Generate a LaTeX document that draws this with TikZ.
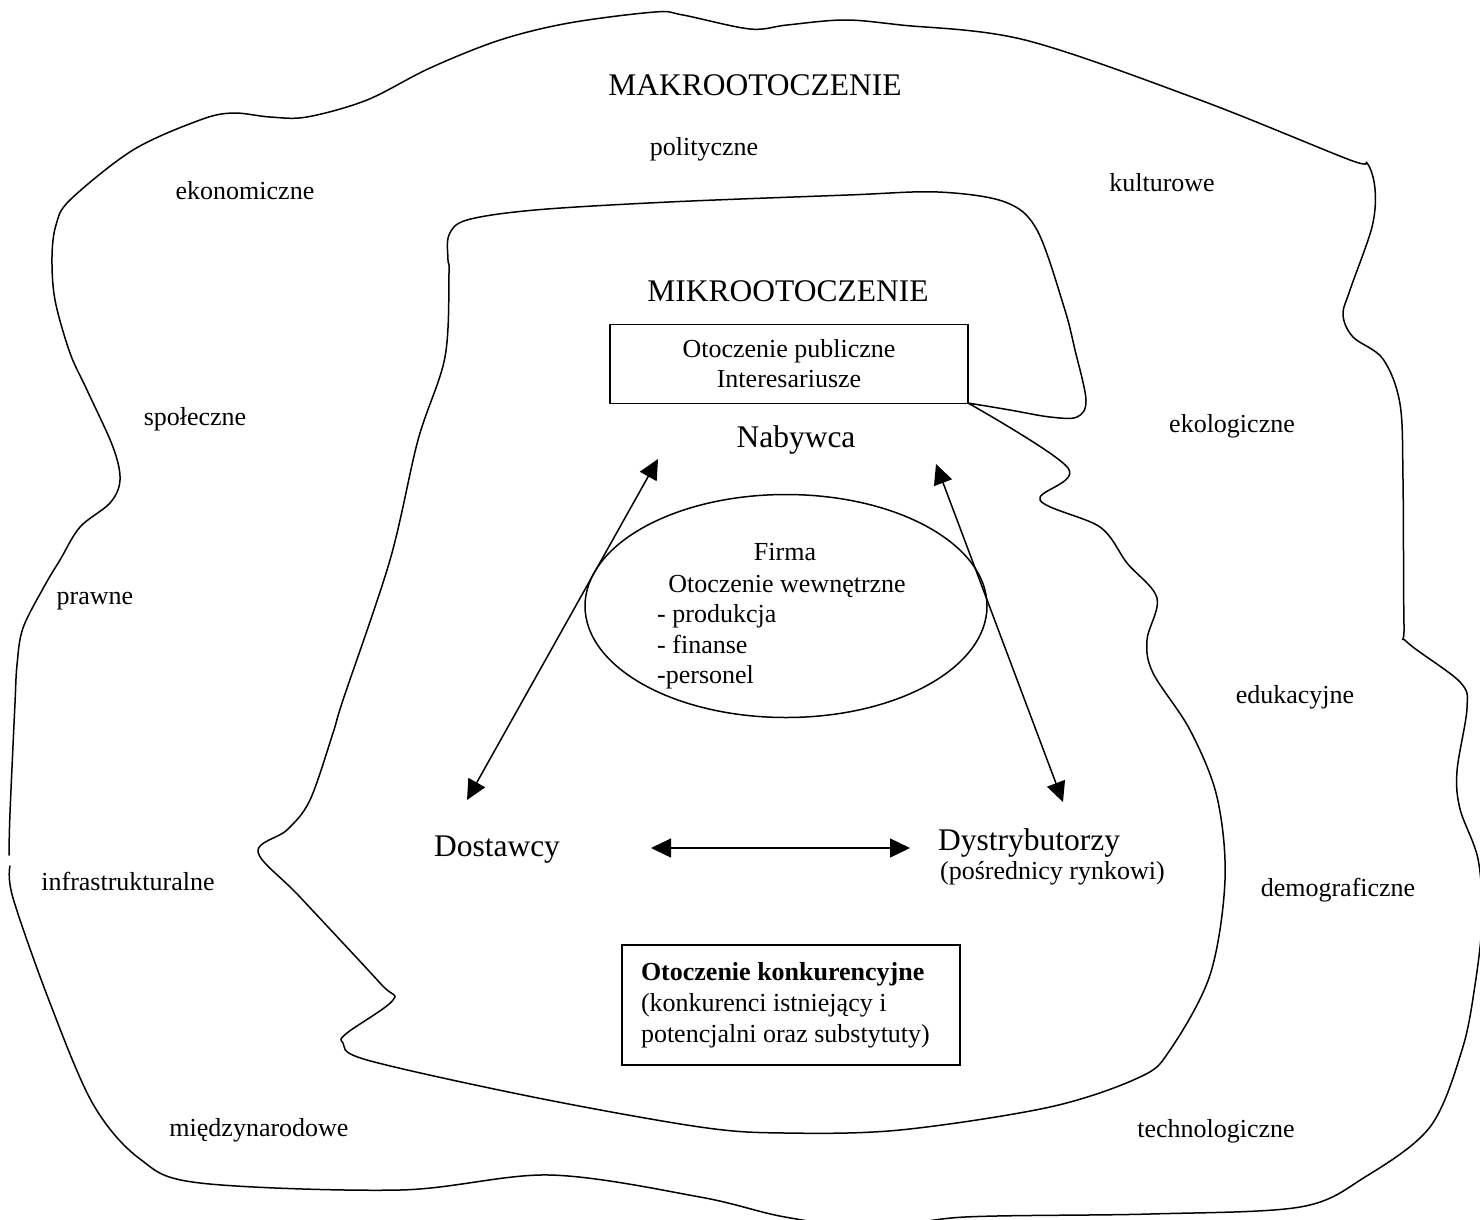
\documentclass[tikz,border=0pt]{standalone}
\usepackage{fontspec}
\setmainfont{Liberation Serif}
\usetikzlibrary{arrows.meta,shapes.geometric}

\begin{document}
\begin{tikzpicture}[x=1pt,y=-1pt,
  factor/.style={font=\fontsize{26}{30}\selectfont, inner sep=0pt},
  sphere/.style={font=\fontsize{31.5}{35}\selectfont, inner sep=0pt},
  blob/.style={line width=1.5pt, line join=round, line cap=round},
  link/.style={line width=1.5pt, <->, >={Triangle[length=20pt,width=19pt]}}]
  \useasboundingbox (0,0) rectangle (1480,1219);
  \clip (0,0) rectangle (1480,1219);

  % makrootoczenie
  \draw[blob] plot[smooth, tension=0.55] coordinates {
    (9,855) (10,813) (15,703) (17,665) (23,628) (45,585) (60,560)
    (80,527) (110,503) (120,480) (113,447) (87,390) (70,353) (55,300)
    (52,257) (56,225) (70,200) (133,150) (200,120) (233,113) (270,117)
    (307,117) (367,100) (430,68) (500,40) (569,23) (655,12) (683,15)
    (750,29) (787,25) (844,20) (901,25) (1025,40) (1200,100) (1350,160)
    (1367,163) (1375,189) (1372,227) (1350,290) (1343,315) (1353,337)
    (1383,359) (1400,404) (1403,480) (1404,625) (1407,642) (1460,682)
    (1467,708) (1457,771) (1460,809) (1478,859) (1482,920) (1475,985)
    (1462,1050) (1430,1127) (1365,1177) (1300,1207) (1150,1214)
    (965,1217) (875,1228) (785,1217) (700,1197) (550,1175) (400,1190)
    (200,1183) (140,1159) (93,1104) (50,1003) (13,898) (10,866)};

  % mikrootoczenie
  \draw[blob] plot[smooth, tension=0.55] coordinates {
    (968,403) (1010,410) (1050,417) (1077,417) (1086,400) (1075,350)
    (1064,307) (1037,230) (1005,202) (938,192) (848,195) (669,202)
    (535,210) (467,220) (449,235) (448,260) (449,273) (445,357)
    (418,440) (390,560) (343,700) (333,733) (310,800) (287,830)
    (258,852) (300,897) (380,983) (393,1000) (347,1033) (343,1043)
    (367,1060) (533,1097) (700,1127) (785,1133) (900,1130) (1050,1107)
    (1140,1077) (1170,1050) (1210,975) (1225,880) (1217,797) (1190,730)
    (1153,673) (1147,640) (1157,598) (1127,563) (1100,527) (1040,500)
    (1068,468) (968,403)};

  \node[sphere, anchor=base] (makro) at (755,95) {MAKROOTOCZENIE};
  \node[factor, anchor=base] (polit) at (704,155) {polityczne};
  \node[factor, anchor=base] (ekon) at (245,199) {ekonomiczne};
  \node[factor, anchor=base] (kult) at (1162,191) {kulturowe};
  \node[factor, anchor=base] (spol) at (195,425) {społeczne};
  \node[factor, anchor=base] (ekol) at (1232,432) {ekologiczne};
  \node[factor, anchor=base] (praw) at (95,604) {prawne};
  \node[factor, anchor=base] (eduk) at (1295,703) {edukacyjne};
  \node[factor, anchor=base] (infra) at (128,890) {infrastrukturalne};
  \node[factor, anchor=base] (demo) at (1338,896) {demograficzne};
  \node[factor, anchor=base] (miedz) at (259,1136) {międzynarodowe};
  \node[factor, anchor=base] (techn) at (1216,1137) {technologiczne};

  \node[sphere, anchor=base] (mikro) at (788,301) {MIKROOTOCZENIE};
  \node[factor, draw, line width=1.3pt, minimum width=358pt,
    minimum height=79pt, align=center] (publ) at (789,364)
    {Otoczenie publiczne\\Interesariusze};
  \node[sphere, anchor=base] (nabyw) at (796,447) {Nabywca};

  \node[draw, ellipse, line width=1.5pt, minimum width=402pt,
    minimum height=223pt] (firma) at (786,606) {};
  \node[factor, anchor=base] (firmaname) at (785,560) {Firma};
  \node[factor, anchor=base] (wewn) at (787,592) {Otoczenie wewnętrzne};
  \node[factor, anchor=base west] (prod) at (657,622) {- produkcja};
  \node[factor, anchor=base west] (fin) at (657,653) {- finanse};
  \node[factor, anchor=base west] (pers) at (657,683) {-personel};

  \node[sphere, anchor=base] (dost) at (497,856) {Dostawcy};
  \node[sphere, anchor=base west] (dystr) at (938,850) {Dystrybutorzy};
  \node[factor, anchor=base west] (posr) at (940,879) {(pośrednicy rynkowi)};

  \node[factor, draw, line width=1.3pt, text width=300pt, inner xsep=19pt,
    minimum height=120pt, align=flush left, font=\fontsize{26}{31}\selectfont]
    (konk) at (791,1005)
    {\textbf{Otoczenie konkurencyjne}\\(konkurenci istniejący i\\potencjalni oraz substytuty)};

  \coordinate (nabL) at (658,459);
  \coordinate (dostT) at (467,800);
  \coordinate (nabR) at (936,464);
  \coordinate (dystrT) at (1063,802);
  \coordinate (dostR) at (651,848);
  \coordinate (dystrL) at (910,848);
  \draw[link] (dostT) -- (nabL);
  \draw[link] (dystrT) -- (nabR);
  \draw[link] (dostR) -- (dystrL);
\end{tikzpicture}
\end{document}
